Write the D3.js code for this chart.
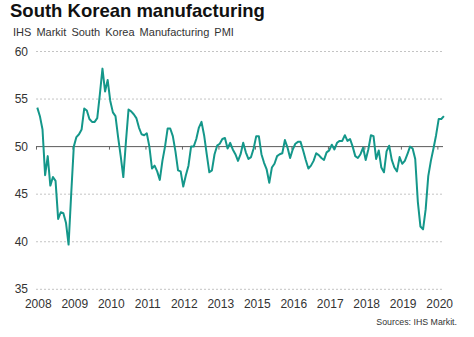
<!DOCTYPE html>
<html>
<head>
<meta charset="utf-8">
<script src="https://cdn.jsdelivr.net/npm/d3@7"></script>
<style>
  body { margin: 0; background: #fff; }
  svg { font-family: Arial, "Liberation Sans", sans-serif; }
</style>
</head>
<body>
<div id="chart"></div>
<script>
const width = 474;
const height = 337;

// monthly PMI, Jan 2008 .. Jan 2021
const pmi = [
  54.1, 53.2, 51.8, 47.0, 49.0, 45.9, 46.8, 46.4, 42.4, 43.1, 43.0, 42.0,
  39.7, 45.0, 50.0, 51.0, 51.3, 51.8, 54.0, 53.8, 52.9, 52.6, 52.6, 53.0,
  55.5, 58.2, 55.8, 57.0, 54.8, 53.6, 53.2, 51.0, 49.0, 46.8, 50.5, 53.9,
  53.7, 53.4, 53.0, 52.0, 51.3, 51.2, 51.4, 50.0, 47.7, 48.0, 47.4, 46.5,
  48.5, 50.0, 51.9, 51.9, 51.1, 49.5, 47.5, 47.4, 45.8, 47.0, 48.0, 50.0,
  50.0, 50.8, 52.0, 52.6, 51.2, 49.2, 47.3, 47.5, 49.2, 50.1, 50.3, 50.8,
  50.9, 49.8, 50.4, 49.7, 49.2, 48.5, 49.2, 50.4, 49.4, 48.7, 48.9, 49.8,
  51.1, 51.1, 49.2, 48.3, 47.6, 46.2, 47.8, 48.2, 49.0, 49.2, 49.3, 50.7,
  49.9, 48.8, 49.7, 50.3, 50.5, 50.5, 49.6, 48.6, 47.7, 48.0, 48.5, 49.3,
  49.1, 48.8, 48.6, 49.4, 49.6, 50.2, 49.7, 50.4, 50.6, 50.6, 51.2, 50.6,
  50.8, 50.0, 49.0, 48.8, 49.2, 49.9, 48.6, 49.7, 51.2, 51.1, 48.7, 49.6,
  47.8, 47.3, 49.5, 50.1, 48.6, 47.8, 47.4, 48.9, 48.2, 48.5, 49.2, 50.0,
  49.8, 48.7, 44.2, 41.6, 41.3, 43.4, 46.9, 48.5, 49.8, 51.2, 52.9, 52.9,
  53.2
];

// axis labels sit every 14th month
const tickMonths = [0, 14, 28, 42, 56, 70, 84, 98, 112, 126, 140, 154];
const tickLabels = ["2008", "2009", "2010", "2011", "2012", "2013",
                    "2015", "2016", "2017", "2018", "2019", "2020"];
const yTicks = [35, 40, 45, 55, 60];

const svg = d3.select("#chart").append("svg")
    .attr("width", width)
    .attr("height", height);

const x = d3.scaleLinear().domain([0, pmi.length - 1]).range([37.3, 443.9]);
const y = d3.scaleLinear().domain([35, 60]).range([289.3, 51.5]);

// title
svg.append("text")
    .attr("x", 10).attr("y", 17)
    .style("font-size", "18.5px").style("font-weight", "bold").style("fill", "#111")
    .text("South Korean manufacturing");

svg.append("text")
    .attr("x", 13).attr("y", 36)
    .style("font-size", "11px").style("word-spacing", "2px").style("fill", "#333")
    .text("IHS Markit South Korea Manufacturing PMI");

// dashed gridlines
svg.append("g")
  .selectAll("line")
  .data(yTicks)
  .join("line")
    .attr("x1", 36).attr("x2", 443)
    .attr("y1", d => y(d)).attr("y2", d => y(d))
    .style("stroke", "#c4c4c4")
    .style("stroke-width", 1)
    .style("stroke-dasharray", "2,2");

// y labels
svg.append("g")
  .selectAll("text")
  .data(yTicks.concat([50]))
  .join("text")
    .attr("x", 28).attr("y", d => y(d) + 4)
    .attr("text-anchor", "end")
    .style("font-size", "12px").style("fill", "#333")
    .text(d => d);

// the 50 line acts as the x axis
const axis = d3.axisBottom(x)
    .tickValues(tickMonths.map(m => m - 0.5))
    .tickSize(3)
    .tickFormat("");

const axisG = svg.append("g")
    .attr("transform", `translate(0,${y(50)})`)
    .call(axis);
axisG.select(".domain").remove();
axisG.selectAll(".tick line").style("stroke", "#666");
axisG.append("line")
    .attr("x1", 36).attr("x2", 443)
    .style("stroke", "#5a5a5a").style("stroke-width", 1);

// year labels along the bottom
svg.append("g")
  .selectAll("text")
  .data(tickMonths)
  .join("text")
    .attr("x", d => x(d) + 1)
    .attr("y", 308)
    .attr("text-anchor", "middle")
    .style("font-size", "12px").style("fill", "#333")
    .text((d, i) => tickLabels[i]);

const line = d3.line()
    .x((d, i) => x(i))
    .y(d => y(d));

svg.append("path")
    .datum(pmi)
    .attr("d", line)
    .style("fill", "none")
    .style("stroke", "#14978a")
    .style("stroke-width", 2)
    .style("stroke-linejoin", "round");

svg.append("text")
    .attr("x", 457).attr("y", 325)
    .attr("text-anchor", "end")
    .style("font-size", "8.8px").style("fill", "#333")
    .text("Sources: IHS Markit.");
</script>
</body>
</html>
